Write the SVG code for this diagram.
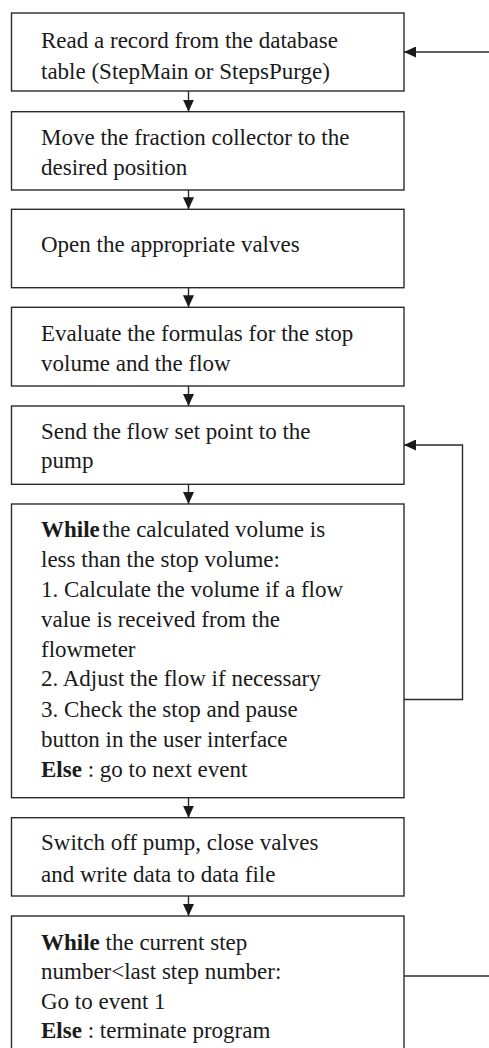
<svg xmlns="http://www.w3.org/2000/svg" width="489" height="1048" viewBox="0 0 489 1048">
<style>
.box{fill:#fff;stroke:#2b2b2b;stroke-width:1.4}
.t{font-family:"Liberation Serif","Times New Roman",serif;font-size:23px;fill:#1a1a1a}
.b{font-weight:bold}
.c{fill:none;stroke:#2b2b2b;stroke-width:1.4}
</style>
<defs>
<marker id="ah" markerUnits="userSpaceOnUse" markerWidth="12" markerHeight="11" refX="12" refY="5.5" orient="auto">
<path d="M0,0 L12,5.5 L0,11 Z" fill="#1a1a1a"/>
</marker>
</defs>
<rect width="489" height="1048" fill="#fff"/>
<g id="n1"><rect class="box" x="11.5" y="13" width="392.5" height="78"/>
<text class="t" x="41" y="48">Read a record from the database</text>
<text class="t" x="41" y="79">table (StepMain or StepsPurge)</text></g>
<g id="n2"><rect class="box" x="11.5" y="111.7" width="392.5" height="78.3"/>
<text class="t" x="41" y="145">Move the fraction collector to the</text>
<text class="t" x="41" y="175">desired position</text></g>
<g id="n3"><rect class="box" x="11.5" y="209.3" width="392.5" height="78.4"/>
<text class="t" x="41" y="252.3">Open the appropriate valves</text></g>
<g id="n4"><rect class="box" x="11.5" y="307.3" width="392.5" height="78.7"/>
<text class="t" x="41" y="341">Evaluate the formulas for the stop</text>
<text class="t" x="41" y="371">volume and the flow</text></g>
<g id="n5"><rect class="box" x="11.5" y="406" width="392.5" height="78.3"/>
<text class="t" x="41" y="439">Send the flow set point to the</text>
<text class="t" x="41" y="468.3">pump</text></g>
<g id="n6"><rect class="box" x="11.5" y="504" width="392.5" height="293.7"/>
<text class="t" x="41" y="536.7"><tspan class="b">While</tspan><tspan dx="2.5">the calculated volume is</tspan></text>
<text class="t" x="41" y="567.3">less than the stop volume:</text>
<text class="t" x="41" y="597.3">1. Calculate the volume if a flow</text>
<text class="t" x="41" y="627.3">value is received from the</text>
<text class="t" x="41" y="656.7">flowmeter</text>
<text class="t" x="41" y="686">2. Adjust the flow if necessary</text>
<text class="t" x="41" y="716.7">3. Check the stop and pause</text>
<text class="t" x="41" y="746.7">button in the user interface</text>
<text class="t" x="41" y="776.7"><tspan class="b">Else</tspan> : go to next event</text></g>
<g id="n7"><rect class="box" x="11.5" y="817.7" width="392.5" height="78.3"/>
<text class="t" x="41" y="850">Switch off pump, close valves</text>
<text class="t" x="41" y="881.7">and write data to data file</text></g>
<g id="n8"><rect class="box" x="11.5" y="916" width="392.5" height="140"/>
<text class="t" x="41" y="949.5"><tspan class="b">While</tspan> the current step</text>
<text class="t" x="41" y="979">number&lt;last step number:</text>
<text class="t" x="41" y="1008.5">Go to event 1</text>
<text class="t" x="41" y="1038"><tspan class="b">Else</tspan> : terminate program</text></g>
<g id="connectors">
<line class="c" x1="188.5" y1="91" x2="188.5" y2="111.7" marker-end="url(#ah)"/>
<line class="c" x1="188.5" y1="190" x2="188.5" y2="209.3" marker-end="url(#ah)"/>
<line class="c" x1="188.5" y1="287.7" x2="188.5" y2="307.3" marker-end="url(#ah)"/>
<line class="c" x1="188.5" y1="386" x2="188.5" y2="406" marker-end="url(#ah)"/>
<line class="c" x1="188.5" y1="484.3" x2="188.5" y2="504" marker-end="url(#ah)"/>
<line class="c" x1="188.5" y1="797.7" x2="188.5" y2="817.7" marker-end="url(#ah)"/>
<line class="c" x1="188.5" y1="896" x2="188.5" y2="916" marker-end="url(#ah)"/>
<path class="c" d="M404,699.5 H462.5 V445 H404" marker-end="url(#ah)"/>
<line class="c" x1="489" y1="52" x2="404" y2="52" marker-end="url(#ah)"/>
<line class="c" x1="404" y1="976" x2="489" y2="976"/>
</g>
</svg>
